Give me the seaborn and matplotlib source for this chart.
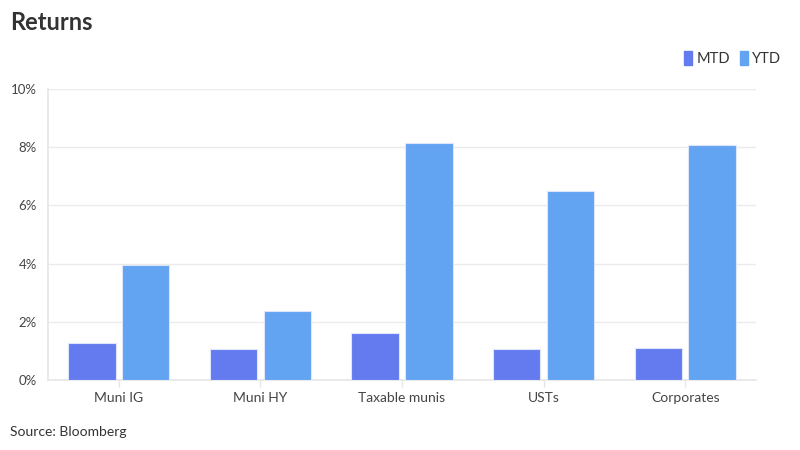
import pandas as pd
import seaborn as sns
import matplotlib.pyplot as plt
from matplotlib.lines import Line2D
from matplotlib.ticker import FuncFormatter

categories = ['Muni IG', 'Muni HY', 'Taxable munis', 'USTs', 'Corporates']
mtd = [1.28, 1.08, 1.62, 1.07, 1.11]
ytd = [3.96, 2.38, 8.15, 6.49, 8.06]
series = ['MTD', 'YTD']
colors = ['#637bef', '#62a3f2']


def main():
    data = pd.DataFrame({
        'category': categories * 2,
        'series': ['MTD'] * len(categories) + ['YTD'] * len(categories),
        'value': mtd + ytd,
    })

    sns.set_theme(style='white')
    plt.rcParams['font.family'] = ['Lato', 'DejaVu Sans']

    fig = plt.figure(figsize=(8, 4.5), dpi=100)
    ax = fig.add_axes([0.06, 0.1556, 0.885, 0.6467])

    sns.barplot(data=data, x='category', y='value', hue='series',
                hue_order=series, palette=colors, width=0.76, gap=0.12,
                saturation=1, edgecolor='#dfe6fb', linewidth=0.8,
                legend=False, ax=ax, zorder=3)

    ax.set_ylim(0, 10)
    ax.set_yticks([0, 2, 4, 6, 8, 10])
    ax.yaxis.set_major_formatter(FuncFormatter(lambda v, _: f'{v:.0f}%'))
    ax.grid(axis='y', color='#ebebeb', linewidth=1, zorder=0)
    ax.set_xlabel('')
    ax.set_ylabel('')

    for side in ['top', 'right']:
        ax.spines[side].set_visible(False)
    for side in ['left', 'bottom']:
        ax.spines[side].set_color('#e6e6e6')
        ax.spines[side].set_linewidth(1.2)

    ax.tick_params(axis='y', length=0, pad=8, labelsize=9.5, labelcolor='#444444')
    ax.tick_params(axis='x', length=5, width=1, color='#e6e6e6', pad=4,
                   labelsize=10, labelcolor='#444444', direction='out')
    ax.xaxis.set_ticks_position('bottom')

    fig.text(0.0125, 0.95, 'Returns', fontsize=17, fontweight='bold',
             color='#333333', va='center', ha='left')
    fig.text(0.0125, 0.04, 'Source: Bloomberg', fontsize=10,
             color='#333333', va='center', ha='left')

    rect = [(-0.55, -1), (0.55, -1), (0.55, 1), (-0.55, 1), (-0.55, -1)]
    handles = [Line2D([], [], linestyle='none', marker=rect, markersize=10,
                      markerfacecolor=c, markeredgecolor=c) for c in colors]
    fig.legend(handles, series, loc='center right', bbox_to_anchor=(0.976, 0.868),
               ncol=2, frameon=False, fontsize=10.5, handlelength=0.5,
               handletextpad=0.3, columnspacing=0.7, labelcolor='#333333',
               borderaxespad=0, borderpad=0)

    fig.savefig('out.png', dpi=100)


if __name__ == '__main__':
    main()
